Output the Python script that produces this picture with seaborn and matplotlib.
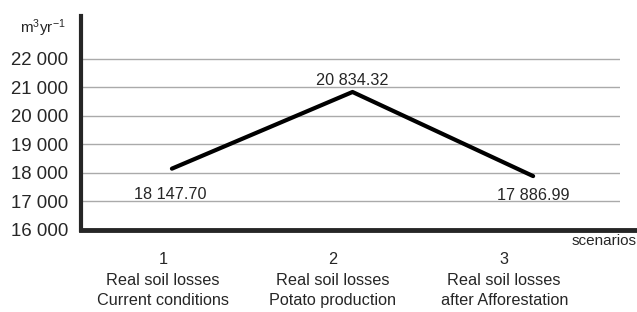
import numpy as np
import seaborn as sns
import pandas as pd
import matplotlib.pyplot as plt
from matplotlib.ticker import FuncFormatter

# data
scenario_ids = [1, 2, 3]
scenario_names = ['Real soil losses\nCurrent conditions',
                  'Real soil losses\nPotato production',
                  'Real soil losses\nafter Afforestation']
soil_losses = [18147.70, 20834.32, 17886.99]
y_ticks = [16000, 17000, 18000, 19000, 20000, 21000, 22000]

df = pd.DataFrame({'scenario': scenario_ids, 'loss': soil_losses})

sns.set_style('white')
plt.rcParams['font.family'] = ['Liberation Sans', 'DejaVu Sans']
plt.rcParams['mathtext.fontset'] = 'custom'
plt.rcParams['mathtext.rm'] = 'Liberation Sans'
plt.rcParams['mathtext.it'] = 'Liberation Sans'

fig = plt.figure(figsize=(6.37, 3.12), dpi=100)
ax = fig.add_axes([0.127, 0.263, 0.846, 0.686])

sns.lineplot(data=df, x='scenario', y='loss', color='black', lw=3, ax=ax)

ax.set_xlim(0.496, 3.48)
ax.set_ylim(16000, 23500)

def thousands(v, pos):
    return f'{int(v):,}'.replace(',', ' ')

ax.set_yticks(y_ticks)
ax.yaxis.set_major_formatter(FuncFormatter(thousands))
for t in y_ticks[1:]:
    ax.axhline(t, color='#aaaaaa', lw=1, zorder=0)
ax.tick_params(axis='y', direction='in', length=7, width=3, labelsize=13.4, pad=9)

# category labels and separators
ax.set_xticks([0.95, 1.89, 2.84])
ax.set_xticklabels([f'{i}\n{n}' for i, n in zip(scenario_ids, scenario_names)],
                   linespacing=1.45)
ax.tick_params(axis='x', length=0, labelsize=11.7, pad=16)
ax.set_xticks([1.404, 2.346], minor=True)
ax.tick_params(axis='x', which='minor', direction='out', length=8, width=3)

for s in ['top', 'right']:
    ax.spines[s].set_visible(False)
ax.spines['left'].set_linewidth(3)
ax.spines['bottom'].set_linewidth(3.5)
ax.spines['bottom'].set_bounds(0.496, 3.58)
ax.spines['bottom'].set_clip_on(False)
ax.set_xlabel('')
ax.set_ylabel('')

# value labels
offsets = [(-2, -26), (0, 11), (0, -19)]
for x, v, (dx, dy) in zip(scenario_ids, soil_losses, offsets):
    txt = f'{v:,.2f}'.replace(',', ' ')
    ax.annotate(txt, (x, v), xytext=(dx, dy), textcoords='offset pixels',
                ha='center', va='center', fontsize=11.7)

fig.text(0.103, 0.91, r'm$^3$yr$^{-1}$', ha='right', va='center', fontsize=11)
fig.text(0.999, 0.228, 'scenarios', ha='right', va='center', fontsize=11)

plt.savefig('out.png', dpi=100)
